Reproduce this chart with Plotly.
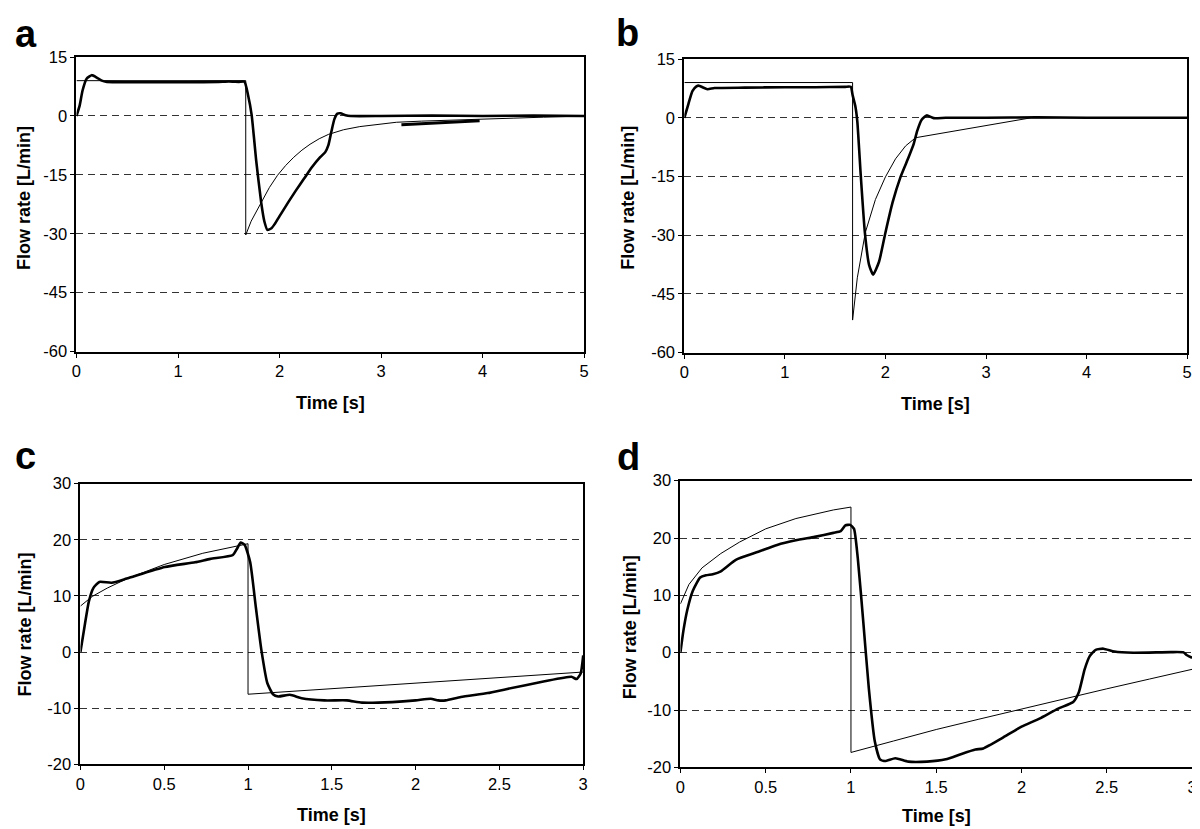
import plotly.graph_objects as go

# ---------------- data ----------------
# Panel a
a_model_t = [0, 1.667, 1.667, 1.72, 1.816, 1.90, 1.98, 2.06, 2.14, 2.22, 2.30, 2.39, 2.48, 2.63, 2.79, 2.96, 3.15, 3.40, 3.70, 4.00, 4.30, 4.60, 4.85, 5.0]
a_model_q = [9, 9, -30.3, -26.8, -22.2, -18.2, -15.1, -12.6, -10.5, -8.7, -7.2, -5.8, -4.7, -3.5, -2.7, -2.1, -1.6, -1.3, -1.0, -0.8, -0.55, -0.3, -0.1, 0]
a_meas_t = [0, 0.03, 0.06, 0.10, 0.15, 0.20, 0.25, 0.30, 0.5, 0.8, 1.1, 1.4, 1.5, 1.6, 1.655, 1.69, 1.725, 1.77, 1.82, 1.85, 1.88, 1.92, 1.95, 2.0, 2.08, 2.16, 2.24, 2.32, 2.40, 2.45, 2.48, 2.51, 2.54, 2.57, 2.60, 2.65, 2.70, 3.0, 3.5, 4.0, 4.5, 5.0]
a_meas_q = [0, 2.5, 6.5, 9.5, 10.4, 9.8, 9.0, 8.7, 8.6, 8.6, 8.6, 8.7, 8.8, 8.7, 8.7, 5.3, 0.3, -11.4, -22.2, -26.8, -29.0, -28.6, -27.6, -25.5, -22.2, -19.0, -16.0, -13.0, -10.5, -9.2, -7.5, -4.0, -0.8, 0.6, 0.7, 0.2, 0.0, 0.0, 0.1, 0.0, 0.1, 0.0]
a_seg_t = [3.2, 3.97]
a_seg_q = [-2.2, -1.2]

# Panel b
b_model_t = [0, 1.673, 1.673, 1.696, 1.72, 1.80, 1.90, 2.0, 2.10, 2.20, 2.30, 3.45, 5.0]
b_model_q = [9, 9, -51.7, -46.3, -40.9, -29.3, -20.9, -15.1, -10.5, -7.2, -5.1, 0, 0]
b_meas_t = [0, 0.04, 0.08, 0.12, 0.145, 0.18, 0.23, 0.3, 0.6, 1.0, 1.3, 1.6, 1.655, 1.673, 1.70, 1.72, 1.755, 1.795, 1.837, 1.877, 1.936, 2.0, 2.07, 2.15, 2.23, 2.28, 2.315, 2.36, 2.41, 2.48, 2.6, 3.0, 3.5, 4.0, 4.5, 5.0]
b_meas_q = [0, 3.5, 6.8, 8.0, 8.2, 7.8, 7.3, 7.6, 7.7, 7.8, 7.8, 7.9, 7.9, 5.8, 3.0, -0.9, -15.0, -29.3, -37.6, -40.1, -36.8, -29.3, -21.7, -15.1, -10.1, -6.75, -3.4, -0.5, 0.6, -0.1, 0.0, 0.0, 0.1, 0.0, 0.0, 0.0]

# Panel c
c_model_t = [0, 0.07, 0.16, 0.28, 0.5, 0.73, 1.0, 1.0, 3.0]
c_model_q = [8.2, 9.9, 11.4, 13.1, 15.6, 17.6, 19.3, -7.5, -3.55]
c_meas_t = [0, 0.027, 0.05, 0.077, 0.113, 0.186, 0.276, 0.503, 0.684, 0.775, 0.91, 0.934, 0.956, 0.98, 1.013, 1.047, 1.08, 1.115, 1.149, 1.18, 1.25, 1.32, 1.455, 1.59, 1.68, 1.86, 2.0, 2.09, 2.135, 2.18, 2.27, 2.43, 2.54, 2.77, 2.93, 2.96, 2.985, 3.0]
c_meas_q = [0, 5, 9, 11.4, 12.5, 12.35, 13.1, 15.15, 16.0, 16.6, 17.3, 18.4, 19.5, 19.1, 16.0, 7.9, 0.3, -5.5, -7.5, -7.9, -7.6, -8.2, -8.6, -8.6, -9.0, -8.9, -8.6, -8.3, -8.6, -8.6, -8.0, -7.3, -6.6, -5.2, -4.4, -4.8, -3.8, -0.6]

# Panel d
d_model_t = [0, 0.05, 0.127, 0.237, 0.347, 0.5, 0.677, 0.897, 1.0, 1.0, 1.25, 1.5, 1.75, 2.0, 2.25, 2.5, 2.75, 3.0]
d_model_q = [8.5, 11.9, 14.8, 17.3, 19.3, 21.6, 23.4, 24.9, 25.4, -17.4, -15.4, -13.4, -11.6, -9.8, -8.0, -6.3, -4.6, -2.9]
d_meas_t = [0, 0.018, 0.04, 0.073, 0.116, 0.15, 0.19, 0.237, 0.325, 0.457, 0.567, 0.677, 0.787, 0.897, 0.94, 0.967, 0.996, 1.018, 1.04, 1.073, 1.105, 1.14, 1.17, 1.20, 1.26, 1.336, 1.446, 1.556, 1.644, 1.73, 1.776, 1.886, 2.0, 2.105, 2.215, 2.303, 2.336, 2.37, 2.40, 2.435, 2.48, 2.545, 2.655, 2.875, 2.95, 2.97, 3.0]
d_meas_q = [0, 3.9, 7.4, 10.8, 13.1, 13.5, 13.7, 14.2, 16.2, 17.6, 18.8, 19.6, 20.2, 20.9, 21.2, 22.2, 22.3, 21.6, 16.5, 5.1, -6.3, -15.5, -18.6, -18.9, -18.4, -19.0, -19.0, -18.6, -17.7, -16.9, -16.7, -14.9, -12.9, -11.5, -9.75, -8.6, -6.9, -2.9, -0.6, 0.5, 0.7, 0.2, 0.0, 0.1, 0.05, -0.45, -0.9]

# tick labels
ab_x_ticks = [0, 1, 2, 3, 4, 5]
ab_x_text = ["0", "1", "2", "3", "4", "5"]
ab_y_ticks = [15, 0, -15, -30, -45, -60]
ab_y_text = ["15", "0", "-15", "-30", "-45", "-60"]
cd_x_ticks = [0, 0.5, 1, 1.5, 2, 2.5, 3]
cd_x_text = ["0", "0.5", "1", "1.5", "2", "2.5", "3"]
cd_y_ticks = [30, 20, 10, 0, -10, -20]
cd_y_text = ["30", "20", "10", "0", "-10", "-20"]

panel_letters = ["a", "b", "c", "d"]
x_title = "Time [s]"
y_title = "Flow rate [L/min]"

# ---------------- layout geometry (pixels) ----------------
W, H = 1200, 829
FONT = "Liberation Sans, Arial, sans-serif"
# left, right, top, bottom of each plot area
boxes = [(64, 576, 41, 342), (677, 1184, 43, 343), (68, 575, 477, 764), (673, 1189, 474, 767)]

fig = go.Figure()

panels = [
    (a_model_t, a_model_q, a_meas_t, a_meas_q, [0, 5], [-60, 15], ab_x_ticks, ab_x_text, ab_y_ticks, ab_y_text),
    (b_model_t, b_model_q, b_meas_t, b_meas_q, [0, 5], [-60, 15], ab_x_ticks, ab_x_text, ab_y_ticks, ab_y_text),
    (c_model_t, c_model_q, c_meas_t, c_meas_q, [0, 3], [-20, 30], cd_x_ticks, cd_x_text, cd_y_ticks, cd_y_text),
    (d_model_t, d_model_q, d_meas_t, d_meas_q, [0, 3], [-20, 30], cd_x_ticks, cd_x_text, cd_y_ticks, cd_y_text),
]

TICKFONT = dict(family=FONT, size=16.5, color="black")

layout_axes = {}
for i, (mt, mq, st, sq, xr, yr, xtv, xtt, ytv, ytt) in enumerate(panels):
    n = i + 1
    xa = "x" if n == 1 else f"x{n}"
    ya = "y" if n == 1 else f"y{n}"
    fig.add_trace(go.Scatter(x=mt, y=mq, mode="lines", xaxis=xa, yaxis=ya,
                             line=dict(color="black", width=1), showlegend=False, hoverinfo="skip"))
    fig.add_trace(go.Scatter(x=st, y=sq, mode="lines", xaxis=xa, yaxis=ya,
                             line=dict(color="black", width=2.6, shape="spline", smoothing=0.5),
                             showlegend=False, hoverinfo="skip"))
    if n == 1:
        fig.add_trace(go.Scatter(x=a_seg_t, y=a_seg_q, mode="lines", xaxis=xa, yaxis=ya,
                                 line=dict(color="black", width=3), showlegend=False, hoverinfo="skip"))
    l, r, t, b = boxes[i]
    xkey = "xaxis" if n == 1 else f"xaxis{n}"
    ykey = "yaxis" if n == 1 else f"yaxis{n}"
    layout_axes[xkey] = dict(
        domain=[l / W, r / W], anchor=ya, range=xr, tickvals=xtv, ticktext=xtt,
        showgrid=False, zeroline=False, showline=True, linecolor="black", linewidth=2,
        mirror=True, ticks="outside", ticklen=4, tickwidth=1, tickcolor="black",
        tickfont=TICKFONT, ticklabeloverflow="allow",
    )
    layout_axes[ykey] = dict(
        domain=[1 - b / H, 1 - t / H], anchor=xa, range=yr, tickvals=ytv, ticktext=ytt,
        showgrid=True, gridcolor="#333333", gridwidth=1.2, griddash="7px,5px",
        zeroline=False, showline=True, linecolor="black", linewidth=2,
        mirror=True, ticks="outside", ticklen=4, tickwidth=1, tickcolor="black",
        tickfont=TICKFONT,
    )

annotations = []
# panel letters (center positions in px)
letter_pos = [(13, 17), (620, 16), (13, 449), (621, 450)]
for (px, py), s in zip(letter_pos, panel_letters):
    annotations.append(dict(text=f"<b>{s}</b>", x=px / W, y=1 - py / H, xref="paper", yref="paper",
                            xanchor="center", yanchor="middle", showarrow=False,
                            font=dict(family=FONT, size=38, color="black")))
# axis titles
ytitle_pos = [(11, 185), (620, 185), (12, 621), (623, 624)]
xtitle_pos = [(320, 395), (930, 396), (321, 816), (931, 817)]
for (px, py) in ytitle_pos:
    annotations.append(dict(text=f"<b>{y_title}</b>", x=px / W, y=1 - py / H, xref="paper", yref="paper",
                            xanchor="center", yanchor="middle", textangle=-90, showarrow=False,
                            font=dict(family=FONT, size=18, color="black")))
for (px, py) in xtitle_pos:
    annotations.append(dict(text=f"<b>{x_title}</b>", x=px / W, y=1 - py / H, xref="paper", yref="paper",
                            xanchor="center", yanchor="middle", showarrow=False,
                            font=dict(family=FONT, size=18, color="black")))

fig.update_layout(
    width=W, height=H, margin=dict(l=0, r=0, t=0, b=0),
    paper_bgcolor="white", plot_bgcolor="white", showlegend=False,
    annotations=annotations, **layout_axes,
)

fig.write_html("out.html")
